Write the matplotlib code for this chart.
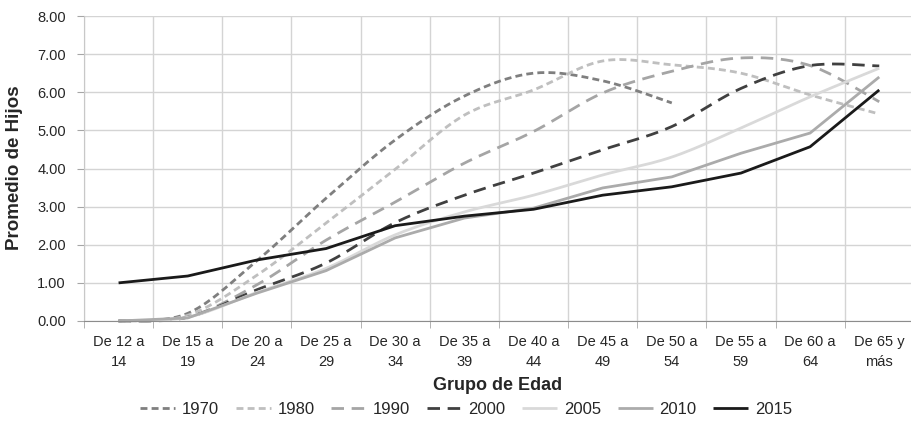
import numpy as np
import matplotlib
matplotlib.use('Agg')
import matplotlib.pyplot as plt

plt.rcParams['font.family'] = ['Liberation Sans', 'DejaVu Sans']
plt.rcParams['lines.scale_dashes'] = False

grupos = ['De 12 a\n14', 'De 15 a\n19', 'De 20 a\n24', 'De 25 a\n29', 'De 30 a\n34',
          'De 35 a\n39', 'De 40 a\n44', 'De 45 a\n49', 'De 50 a\n54', 'De 55 a\n59',
          'De 60 a\n64', 'De 65 y\nmás']

# promedio de hijos por grupo de edad (1970 solo llega a 50-54)
y1970 = [0.00, 0.20, 1.58, 3.22, 4.75, 5.90, 6.50, 6.30, 5.72]
y1980 = [0.00, 0.15, 1.20, 2.57, 3.98, 5.40, 6.06, 6.82, 6.72, 6.50, 5.93, 5.43]
y1990 = [0.00, 0.10, 0.95, 2.12, 3.12, 4.14, 4.97, 5.98, 6.55, 6.90, 6.70, 5.75]
y2000 = [0.00, 0.10, 0.82, 1.52, 2.58, 3.30, 3.88, 4.49, 5.10, 6.10, 6.70, 6.69]
y2005 = [0.00, 0.10, 0.75, 1.38, 2.26, 2.86, 3.30, 3.83, 4.30, 5.06, 5.88, 6.63]
y2010 = [0.00, 0.08, 0.73, 1.32, 2.18, 2.70, 2.96, 3.49, 3.78, 4.40, 4.93, 6.40]
y2015 = [1.00, 1.18, 1.60, 1.90, 2.50, 2.75, 2.93, 3.30, 3.52, 3.88, 4.57, 6.06]


def suavizar(ys, n=20):
    # catmull-rom, parecido al "linea suavizada" de Excel
    pts = np.column_stack([np.arange(len(ys)), ys]).astype(float)
    p = np.vstack([pts[0], pts, pts[-1]])
    t = np.linspace(0, 1, n, endpoint=False)[:, None]
    out = []
    for i in range(1, len(p) - 2):
        p0, p1, p2, p3 = p[i - 1], p[i], p[i + 1], p[i + 2]
        seg = 0.5 * (2 * p1 + (-p0 + p2) * t + (2 * p0 - 5 * p1 + 4 * p2 - p3) * t ** 2
                     + (-p0 + 3 * p1 - 3 * p2 + p3) * t ** 3)
        out.append(seg)
    out.append(pts[-1:])
    out = np.vstack(out)
    return out[:, 0], out[:, 1]


series = [
    ('1970', y1970, '#7f7f7f', (0, (5, 3)), True),
    ('1980', y1980, '#bfbfbf', (0, (5, 3)), True),
    ('1990', y1990, '#a5a5a5', (0, (9, 5.5)), True),
    ('2000', y2000, '#404040', (0, (9, 5.5)), True),
    ('2005', y2005, '#d9d9d9', '-', True),
    ('2010', y2010, '#ababab', '-', False),
    ('2015', y2015, '#1a1a1a', '-', False),
]

fig = plt.figure(figsize=(9.12, 4.25), dpi=100)
ax = fig.add_axes([84 / 912, 1 - 321 / 425, 1 - 84 / 912 + 0.002, (321 - 16) / 425])

for nombre, ys, color, ls, suave in series:
    if suave:
        xs, yy = suavizar(ys)
    else:
        xs, yy = np.arange(len(ys)), ys
    ax.plot(xs, yy, color=color, linestyle=ls, lw=2.0, label=nombre,
            solid_capstyle='butt', dash_capstyle='butt', clip_on=False)

ax.set_xlim(-0.5, 11.5)
ax.set_ylim(0, 8)
ax.set_yticks(np.arange(0, 9, 1))
ax.set_yticklabels(['%.2f' % v for v in np.arange(0, 9, 1)], fontsize=10.5, color='#262626')
ax.set_xticks(np.arange(12))
ax.set_xticklabels(grupos, fontsize=10.5, color='#262626', linespacing=1.55)
ax.set_xticks(np.arange(-0.5, 12, 1), minor=True)

ax.tick_params(axis='x', which='major', length=0, pad=10)
ax.tick_params(axis='x', which='minor', length=5, color='#a6a6a6')
ax.tick_params(axis='y', length=5, color='#a6a6a6', pad=8)

ax.grid(axis='y', color='#d4d4d4', lw=1)
ax.grid(axis='x', which='minor', color='#d4d4d4', lw=1)
ax.set_axisbelow(True)
for s in ['top', 'right']:
    ax.spines[s].set_visible(False)
ax.spines['left'].set_color('#c8c8c8')
ax.spines['bottom'].set_color('#8c8c8c')

fig.text(15 / 912, 1 - 168 / 425, 'Promedio de Hijos', rotation=90, ha='center', va='center',
         fontsize=13.5, fontweight='bold', color='#262626')
fig.text(498 / 912, 1 - 386 / 425, 'Grupo de Edad', ha='center', va='center',
         fontsize=13, fontweight='bold', color='#262626')

fig.legend(loc='center', bbox_to_anchor=(466 / 912, 1 - 409 / 425), ncol=7, frameon=False,
           fontsize=12, handlelength=2.1, handletextpad=0.4, columnspacing=1.0,
           labelcolor='#262626')

fig.savefig('out.png', dpi=100)
